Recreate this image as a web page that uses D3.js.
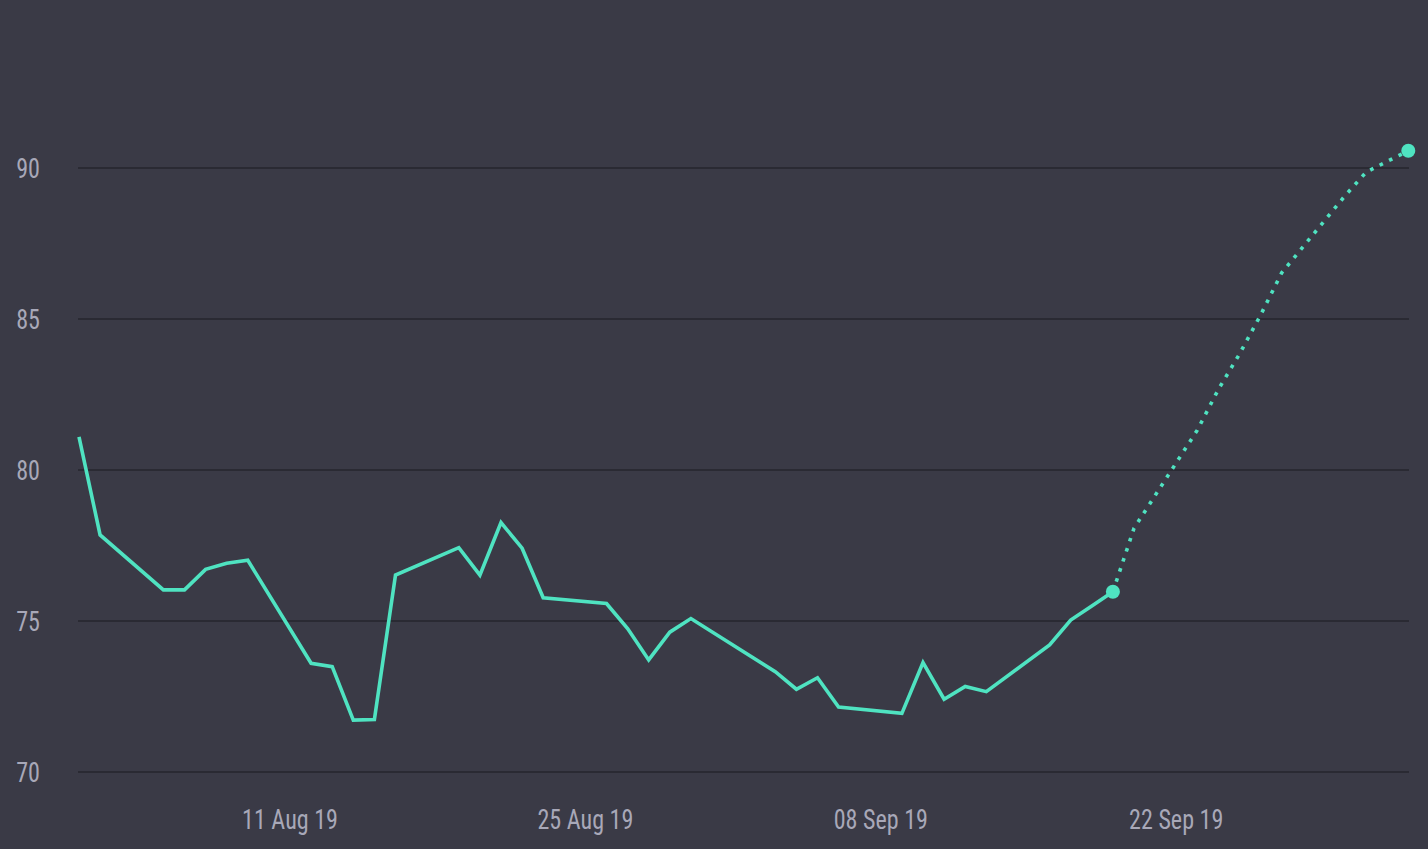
<!DOCTYPE html>
<html>
<head>
<meta charset="utf-8">
<script src="https://cdn.jsdelivr.net/npm/d3@7"></script>
<style>
  html, body { margin: 0; padding: 0; background: #3a3a46; overflow: hidden; }
  svg { display: block; }
  text { font-family: 'Roboto Condensed', 'Roboto', sans-serif; }
</style>
</head>
<body>
<svg id="chart" width="1428" height="849"></svg>
<script>
// Actual series (trading days)
const actualDates = [
  "2019-08-01","2019-08-02","2019-08-05","2019-08-06","2019-08-07","2019-08-08","2019-08-09",
  "2019-08-12","2019-08-13","2019-08-14","2019-08-15","2019-08-16",
  "2019-08-19","2019-08-20","2019-08-21","2019-08-22","2019-08-23",
  "2019-08-26","2019-08-27","2019-08-28","2019-08-29","2019-08-30",
  "2019-09-03","2019-09-04","2019-09-05","2019-09-06",
  "2019-09-09","2019-09-10","2019-09-11","2019-09-12","2019-09-13",
  "2019-09-16","2019-09-17","2019-09-18","2019-09-19"
];
const actualValues = [
  81.1, 77.85, 76.03, 76.03, 76.71, 76.91, 77.01,
  73.6, 73.49, 71.72, 71.74, 76.52,
  77.43, 76.52, 78.26, 77.41, 75.77,
  75.58, 74.75, 73.71, 74.63, 75.08,
  73.32, 72.74, 73.12, 72.15,
  71.94, 73.62, 72.41, 72.83, 72.66,
  74.21, 75.03, 75.5, 75.97
];
// Forecast series
const forecastDates = [
  "2019-09-19","2019-09-20","2019-09-23","2019-09-24","2019-09-25","2019-09-26","2019-09-27",
  "2019-09-30","2019-10-01","2019-10-02","2019-10-03"
];
const forecastValues = [75.97, 78.07, 81.32, 82.67, 83.84, 85.13, 86.53, 89.08, 89.86, 90.22, 90.57];

const yTicks = [70, 75, 80, 85, 90];
const xTickDates = ["2019-08-11","2019-08-25","2019-09-08","2019-09-22"];
const xDomain = ["2019-08-01","2019-10-03"];

const parse = d3.utcParse("%Y-%m-%d");
const fmt = d3.utcFormat("%d %b %y");

const svg = d3.select("#chart");
const W = 1428, H = 849;

const x = d3.scaleUtc().domain(xDomain.map(parse)).range([79, 1408.3]);
const y = d3.scaleLinear().domain([70, 90]).range([772, 168]);

svg.append("rect").attr("width", W).attr("height", H).attr("fill", "#3a3a46");

// gridlines
svg.append("g").selectAll("line").data(yTicks).join("line")
  .attr("x1", 78).attr("x2", 1409)
  .attr("y1", d => y(d)).attr("y2", d => y(d))
  .attr("stroke", "#2a2a33").attr("stroke-width", 2);

const FS = 28, SX = 0.86, TXT = "#a8a8b8";

// y labels
svg.append("g").selectAll("g").data(yTicks).join("g")
  .attr("transform", d => `translate(40,${y(d)}) scale(${SX},1)`)
  .append("text")
  .attr("dy", "0.36em")
  .attr("text-anchor", "end")
  .attr("font-size", FS).attr("fill", TXT)
  .text(d => d);

// x labels
svg.append("g").selectAll("g").data(xTickDates.map(parse)).join("g")
  .attr("transform", d => `translate(${x(d)},829) scale(${SX},1)`)
  .append("text")
  .attr("text-anchor", "middle")
  .attr("font-size", FS).attr("fill", TXT)
  .text(d => fmt(d));

const color = "#4fe3c1";
const line = d3.line().x(d => x(d[0])).y(d => y(d[1]));

const actual = actualDates.map((d, i) => [parse(d), actualValues[i]]);
const forecast = forecastDates.map((d, i) => [parse(d), forecastValues[i]]);

svg.append("path").datum(forecast)
  .attr("d", line).attr("fill", "none")
  .attr("stroke", color).attr("stroke-width", 3.6)
  .attr("stroke-dasharray", "3.6 7");

svg.append("path").datum(actual)
  .attr("d", line).attr("fill", "none")
  .attr("stroke", color).attr("stroke-width", 3.6)
  .attr("stroke-linejoin", "miter");

const ends = [actual[actual.length - 1], forecast[forecast.length - 1]];
svg.append("g").selectAll("circle").data(ends).join("circle")
  .attr("cx", d => x(d[0])).attr("cy", d => y(d[1]))
  .attr("r", 7).attr("fill", color);
</script>
</body>
</html>
